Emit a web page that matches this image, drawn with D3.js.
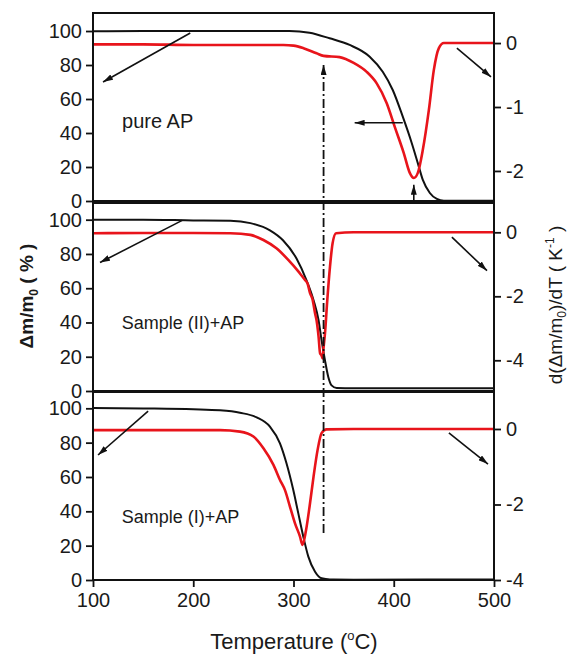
<!DOCTYPE html>
<html>
<head>
<meta charset="utf-8">
<script src="https://cdn.jsdelivr.net/npm/d3@7"></script>
<style>
  html, body { margin: 0; padding: 0; background: #fff; }
  text { font-family: "Liberation Sans", Arial, sans-serif; fill: #1a1a1a; }
</style>
</head>
<body>
<svg id="chart" width="571" height="654"></svg>
<script>
// ---------- DATA ----------
const xTicks = [100, 200, 300, 400, 500];
const leftTicks = [0, 20, 40, 60, 80, 100];
const rightTicksTop = [0, -1, -2];
const rightTicksMid = [0, -2, -4];
const rightTicksBot = [0, -2, -4];
const panelLabels = ["pure AP", "Sample (II)+AP", "Sample (I)+AP"];

// pure AP: TG (%) and DTG (K^-1)
const tgPureT = [100, 150, 200, 250, 280, 296, 316, 336, 356, 376, 389, 399, 409, 418, 424, 429, 436, 443, 450, 500];
const tgPureV = [99.8, 100, 100, 100, 100, 100, 99, 95.7, 91.8, 84.9, 76, 65.3, 49.6, 34, 22.3, 12.4, 4.7, 1.2, 0.2, 0.2];
const dtgPureT = [100, 150, 200, 250, 290, 300, 310, 323, 330, 346, 360, 373, 383, 393, 401, 410, 416, 420, 424, 429, 435, 440, 445, 450, 500];
const dtgPureV = [-0.02, -0.02, -0.03, -0.03, -0.03, -0.04, -0.08, -0.16, -0.2, -0.22, -0.31, -0.45, -0.63, -0.94, -1.31, -1.72, -2.03, -2.11, -2.03, -1.67, -1.05, -0.42, -0.08, 0, 0];

// Sample (II)+AP
const tgIIT = [100, 150, 200, 237, 257, 276.5, 289.5, 303, 313, 320, 325, 328, 331.4, 334.7, 338, 343, 360, 500];
const tgIIV = [100, 100, 99.6, 99.4, 98, 93.8, 88, 77.3, 64.6, 53, 41.3, 29.6, 17.9, 8.2, 3.3, 1.8, 1.6, 1.6];
const dtgIIT = [100, 150, 200, 237, 257, 270, 283, 295, 305, 308, 311.5, 314, 316.5, 319, 321.5, 323, 325, 326.5, 328, 329, 330, 331.4, 333.7, 336.4, 339, 342.5, 360, 400, 450, 500];
const dtgIIV = [-0.03, -0.02, -0.02, -0.03, -0.08, -0.24, -0.5, -0.87, -1.23, -1.35, -1.49, -1.6, -1.9, -2.1, -2.53, -2.75, -3.26, -3.78, -3.85, -3.94, -3.6, -3.16, -2.12, -1.07, -0.34, -0.03, 0, 0, 0, 0];

// Sample (I)+AP
const tgIT = [100, 150, 200, 226.7, 246.6, 263.3, 276.5, 286.5, 293, 299.8, 304.8, 309.8, 314.8, 321.5, 328, 336.4, 360, 500];
const tgIV = [100.2, 99.9, 99.4, 98.8, 97.4, 94.7, 89.3, 79.6, 68, 52.4, 38.8, 25.2, 13.6, 4.8, 1, 0.3, 0.2, 0.3];
const dtgIT = [100, 150, 200, 226.7, 246.6, 260, 270, 280, 286.5, 291.5, 296.5, 301.5, 306.5, 309, 312.5, 316, 320, 324, 328, 333, 360, 400, 450, 500];
const dtgIV = [-0.03, -0.03, -0.03, -0.03, -0.07, -0.2, -0.51, -0.95, -1.35, -1.62, -2.06, -2.5, -2.85, -3.07, -2.68, -2.06, -1.26, -0.56, -0.11, -0.01, 0, 0, 0, 0];

// annotation arrows per panel: [T1, y1, T2, y2, axis]  (axis: "L" mass, "R" derivative)
const arrowsTop = [[197, 98.8, 110, 70, "L"], [463, -0.08, 497, -0.53, "R"], [409, 46, 361, 46, "L"]];
const arrowsMid = [[189, 99.6, 107, 75, "L"], [458, -0.15, 493, -1.2, "R"]];
const arrowsBot = [[155, 98.4, 105, 72.8, "L"], [455, -0.1, 494, -0.93, "R"]];
const markerT = 330;   // dash-dot guide line temperature
const peakT = 420;     // small arrow under pure AP DTG minimum

// ---------- LAYOUT ----------
const svg = d3.select("#chart");
const x = d3.scaleLinear().domain([100, 500]).range([93, 494]);

const panels = [
  { top: 13, bottom: 201, lMax: 110.6, rDom: [-2.47, 0.47], rTicks: rightTicksTop,
    tgT: tgPureT, tgV: tgPureV, dT: dtgPureT, dV: dtgPureV, label: panelLabels[0], lab: [129, 43, 20], arrows: arrowsTop },
  { top: 203, bottom: 391, lMax: 109.75, rDom: [-4.96, 0.916], rTicks: rightTicksMid,
    tgT: tgIIT, tgV: tgIIV, dT: dtgIIT, dV: dtgIIV, label: panelLabels[1], lab: [128.6, 36, 18], arrows: arrowsMid },
  { top: 392, bottom: 580, lMax: 109.5, rDom: [-4, 0.98], rTicks: rightTicksBot,
    tgT: tgIT, tgV: tgIV, dT: dtgIT, dV: dtgIV, label: panelLabels[2], lab: [128.6, 33.2, 18], arrows: arrowsBot }
];

const defs = svg.append("defs");
defs.append("marker").attr("id", "ah").attr("viewBox", "0 0 10 6")
  .attr("refX", 10).attr("refY", 3).attr("markerWidth", 10).attr("markerHeight", 6)
  .attr("markerUnits", "userSpaceOnUse").attr("orient", "auto")
  .append("path").attr("d", "M0,0 L10,3 L0,6 Z").attr("fill", "#111");

panels.forEach((p, i) => {
  p.yL = d3.scaleLinear().domain([0, p.lMax]).range([p.bottom, p.top]);
  p.yR = d3.scaleLinear().domain(p.rDom).range([p.bottom, p.top]);
  const g = svg.append("g");

  // curves
  const tgData = p.tgT.map((t, k) => [t, p.tgV[k]]);
  const dData = p.dT.map((t, k) => [t, p.dV[k]]);
  g.append("path").datum(tgData)
    .attr("d", d3.line().x(d => x(d[0])).y(d => p.yL(d[1])).curve(d3.curveMonotoneX))
    .attr("fill", "none").attr("stroke", "#111").attr("stroke-width", 2);
  g.append("path").datum(dData)
    .attr("d", d3.line().x(d => x(d[0])).y(d => p.yR(d[1])).curve(d3.curveMonotoneX))
    .attr("fill", "none").attr("stroke", "#e8141b").attr("stroke-width", 2.6);

  // frame
  g.append("rect").attr("x", x(100)).attr("y", p.top)
    .attr("width", x(500) - x(100)).attr("height", p.bottom - p.top)
    .attr("fill", "none").attr("stroke", "#111").attr("stroke-width", 2);

  // left axis
  const la = g.append("g").attr("transform", `translate(${x(100)},0)`)
    .call(d3.axisLeft(p.yL).tickValues(leftTicks).tickSize(7).tickPadding(4));
  la.select(".domain").remove();
  la.selectAll("line").attr("stroke", "#111").attr("stroke-width", 1.8);
  la.selectAll("text").attr("font-size", 20).attr("fill", "#1a1a1a")
    .style("font-family", '"Liberation Sans", Arial, sans-serif');

  // right axis
  const ra = g.append("g").attr("transform", `translate(${x(500)},0)`)
    .call(d3.axisRight(p.yR).tickValues(p.rTicks).tickSize(7).tickPadding(5).tickFormat(d => d === 0 ? "0" : "-" + Math.abs(d)));
  ra.select(".domain").remove();
  ra.selectAll("line").attr("stroke", "#111").attr("stroke-width", 1.8);
  ra.selectAll("text").attr("font-size", 20).attr("fill", "#1a1a1a")
    .style("font-family", '"Liberation Sans", Arial, sans-serif');

  // panel label
  g.append("text").attr("x", x(p.lab[0])).attr("y", p.yL(p.lab[1]))
    .attr("font-size", p.lab[2]).text(p.label);

  // arrows
  p.arrows.forEach(a => {
    const ys = a[4] === "L" ? p.yL : p.yR;
    g.append("line").attr("x1", x(a[0])).attr("y1", ys(a[1])).attr("x2", x(a[2])).attr("y2", ys(a[3]))
      .attr("stroke", "#111").attr("stroke-width", 1.6).attr("marker-end", "url(#ah)");
  });
});

// bottom x axis
const bp = panels[2];
const xa = svg.append("g").attr("transform", `translate(0,${bp.bottom})`)
  .call(d3.axisBottom(x).tickValues(xTicks).tickSize(7).tickPadding(6));
xa.select(".domain").remove();
xa.selectAll("line").attr("stroke", "#111").attr("stroke-width", 1.8);
xa.selectAll("text").attr("font-size", 20).attr("fill", "#1a1a1a")
  .style("font-family", '"Liberation Sans", Arial, sans-serif');

// dash-dot guide line with arrow (from bottom panel to top panel)
svg.append("line")
  .attr("x1", x(markerT)).attr("y1", panels[2].yL(27.4))
  .attr("x2", x(markerT)).attr("y2", panels[0].yL(80))
  .attr("stroke", "#111").attr("stroke-width", 1.8)
  .attr("stroke-dasharray", "9,3,2,3").attr("marker-end", "url(#ah)");

// small arrow under the pure AP DTG minimum
svg.append("line")
  .attr("x1", x(peakT)).attr("y1", panels[0].yL(0))
  .attr("x2", x(peakT)).attr("y2", panels[0].yL(9.6))
  .attr("stroke", "#111").attr("stroke-width", 1.6).attr("marker-end", "url(#ah)");

// axis titles
const lt = svg.append("text").attr("transform", "translate(33,296) rotate(-90)")
  .attr("text-anchor", "middle").attr("font-size", 19).attr("font-weight", "bold");
lt.append("tspan").text("Δm/m");
lt.append("tspan").attr("font-size", 12).attr("dy", 5).text("0");
lt.append("tspan").attr("dy", -5).text(" ( % )");

const rt = svg.append("text").attr("transform", "translate(562,305) rotate(-90)")
  .attr("text-anchor", "middle").attr("font-size", 19);
rt.append("tspan").text("d(Δm/m");
rt.append("tspan").attr("font-size", 12).attr("dy", 4).text("0");
rt.append("tspan").attr("dy", -4).text(")/dT ( K");
rt.append("tspan").attr("font-size", 12).attr("dy", -8).text("-1");
rt.append("tspan").attr("dy", 8).text(" )");

const bt = svg.append("text").attr("x", 294).attr("y", 649)
  .attr("text-anchor", "middle").attr("font-size", 22);
bt.append("tspan").text("Temperature (");
bt.append("tspan").attr("font-size", 13).attr("dy", -9).text("o");
bt.append("tspan").attr("dy", 9).text("C)");
</script>
</body>
</html>
